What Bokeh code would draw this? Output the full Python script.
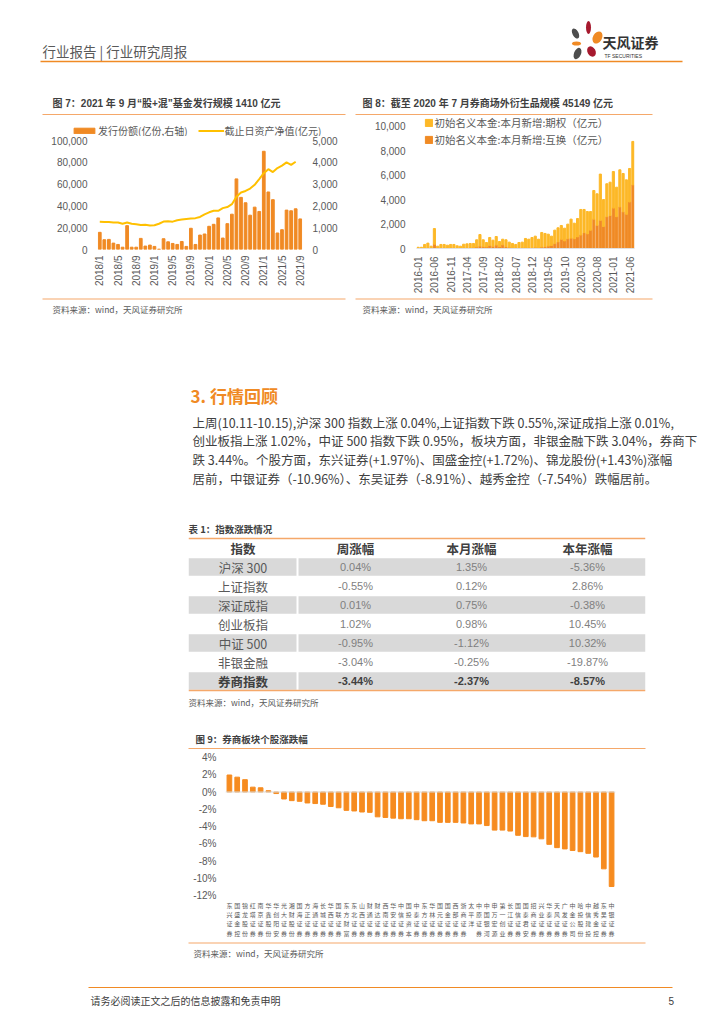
import math
from bokeh.plotting import figure
from bokeh.models import (Range1d, LinearAxis, FixedTicker, NumeralTickFormatter,
                          PrintfTickFormatter, Legend, LegendItem, ColumnDataSource,
                          FactorRange, Span)
from bokeh.layouts import column, row
from bokeh.core.properties import value
from bokeh.embed import file_html
from bokeh.resources import INLINE

CJK = "Noto Sans CJK SC"
MIX = "Liberation Sans, Noto Sans CJK SC"
ORANGE = "#F08A24"
YELLOW = "#FFC000"
LINE_OR = "#F5A86A"
GRAY_T = "#595959"
DARK_T = "#404040"
NAN = float("nan")

# ---------------- data: figure 7 ----------------
months7 = [f"{y}/{m}" for y in range(2018, 2022) for m in range(1, 13)][:45]
ticks7 = ["2018/1", "2018/5", "2018/9", "2019/1", "2019/5", "2019/9", "2020/1",
          "2020/5", "2020/9", "2021/1", "2021/5", "2021/9"]
shares7 = [15600, 8900, 9200, 5800, 4600, 2100, 21700, 2100, 2100, 10100,
           3100, 4000, 2800, 300, 9800, 7000, 5500, 4600, 7300, 2800,
           19300, 4600, 13100, 14100, 21100, 22900, 28700, 10400, 23500, 32100,
           64200, 47400, 42500, 31200, 38500, 34600, 89300, 52300, 45300, 15000,
           18000, 35800, 35200, 37000, 27800]
nav7 = [1260, 1255, 1245, 1225, 1230, 1170, 1225, 1170, 1150, 1110,
        1120, 1090, 1100, 1170, 1270, 1280, 1265, 1330, 1360, 1390,
        1410, 1425, 1480, 1600, 1690, 1760, 1760, 1880, 1930, 2060,
        2400, 2590, 2660, 2770, 2940, 3200, 3470, 3650, 3520, 3700,
        3810, 3960, 3850, 3990]
legend7 = ["发行份额(亿份,右轴)", "截止日资产净值(亿元)"]
title7 = "图 7：2021 年 9 月“股+混”基金发行规模 1410 亿元"

# ---------------- data: figure 8 ----------------
months8 = [f"{y}-{m:02d}" for y in range(2016, 2022) for m in range(1, 13)][:67]
ticks8 = ["2016-01", "2016-06", "2016-11", "2017-04", "2017-09", "2018-02", "2018-07",
          "2018-12", "2019-05", "2019-10", "2020-03", "2020-08", "2021-01", "2021-06"]
total8 = [100, 100, 330, 440, 190, 1630, 190, 330, 330, 270,
          330, 330, 220, 190, 350, 380, 410, 410, 710, 1140,
          710, 490, 900, 680, 980, 570, 760, 710, 520, 410,
          330, 490, 520, 820, 760, 900, 1010, 760, 1310, 1230,
          1170, 1010, 1500, 1690, 1880, 1660, 1990, 2400, 2070, 2450,
          3190, 3190, 3020, 3020, 4740, 4470, 6080, 4000, 5290, 5420,
          6290, 5010, 6430, 6130, 5610, 6540, 8750]
swap8 = [20, 20, 30, 50, 30, 350, 60, 80, 60, 50,
         60, 70, 40, 30, 50, 60, 70, 80, 120, 200,
         150, 120, 250, 180, 280, 150, 300, 150, 100, 60,
         50, 60, 70, 80, 60, 80, 100, 80, 120, 150,
         200, 250, 400, 550, 750, 620, 800, 850, 800, 950,
         1100, 1300, 1200, 1500, 2400, 1900, 2300, 1800, 2600, 2700,
         3300, 2600, 3400, 3000, 2800, 3800, 5200]
legend8 = ["初始名义本金:本月新增:期权（亿元）", "初始名义本金:本月新增:互换（亿元）"]
title8 = "图 8：截至 2020 年 7 月券商场外衍生品规模 45149 亿元"

# ---------------- data: table 1 ----------------
tbl_head = ["指数", "周涨幅", "本月涨幅", "本年涨幅"]
tbl_names = ["沪深 300", "上证指数", "深证成指", "创业板指", "中证 500", "非银金融", "券商指数"]
tbl_week = [0.04, -0.55, 0.01, 1.02, -0.95, -3.04, -3.44]
tbl_month = [1.35, 0.12, 0.75, 0.98, -1.12, -0.25, -2.37]
tbl_year = [-5.36, 2.86, -0.38, 10.45, 10.32, -19.87, -8.57]
title_t = "表 1：指数涨跌情况"

# ---------------- data: figure 9 ----------------
names9 = ["东兴证券", "国盛金控", "锦龙股份", "红塔证券", "南京证券", "华鑫股份", "华创阳安",
          "光大证券", "湘财股份", "国海证券", "方正证券", "海通证券", "长城证券", "华西证券",
          "国联证券", "东方财富", "东北证券", "山西证券", "财通证券", "财达证券", "西南证券",
          "华安证券", "中信证券", "国投资本", "中泰证券", "东方证券", "华林证券", "国元证券",
          "国金证券", "西部证券", "浙商证券", "太平洋", "中原证券", "中国银河", "申万宏源",
          "第一创业", "长江证券", "国信证券", "国泰君安", "招商证券", "兴业证券", "华泰证券",
          "天风证券", "广发证券", "中金公司", "哈投股份", "中信建投", "越秀金控", "东吴证券",
          "中银证券"]
chg9 = [1.97, 1.72, 1.43, 0.56, 0.49, 0.15, -0.18, -0.81, -1.00, -1.08,
        -1.27, -1.34, -1.42, -1.68, -1.83, -2.13, -2.20, -2.32, -2.36, -2.88,
        -2.95, -3.03, -3.10, -3.10, -3.21, -3.33, -3.33, -3.52, -3.52, -3.52,
        -3.59, -3.70, -3.70, -3.89, -4.42, -4.42, -4.53, -5.02, -5.17, -5.20,
        -5.43, -6.07, -6.45, -6.60, -6.78, -6.92, -7.11, -7.54, -8.91, -10.96]
title9 = "图 9：券商板块个股涨跌幅"

source_txt = "资料来源：wind，天风证券研究所"
heading = "3. 行情回顾"
para = ["上周(10.11-10.15),沪深 300 指数上涨 0.04%,上证指数下跌 0.55%,深证成指上涨 0.01%,",
        "创业板指上涨 1.02%，中证 500 指数下跌 0.95%，板块方面，非银金融下跌 3.04%，券商下",
        "跌 3.44%。个股方面，东兴证券(+1.97%)、国盛金控(+1.72%)、锦龙股份(+1.43%)涨幅",
        "居前，中银证券（-10.96%）、东吴证券（-8.91%）、越秀金控（-7.54%）跌幅居前。"]
header_txt = "行业报告 | 行业研究周报"
footer_txt = "请务必阅读正文之后的信息披露和免责申明"
page_no = "5"

W = 720


def band(h, top, w=W, left=0):
    p = figure(width=w, height=h, x_range=Range1d(left, left + w), y_range=Range1d(top + h, top),
               output_backend="svg", toolbar_location=None, min_border=0,
               x_axis_location=None, y_axis_location=None)
    p.grid.visible = False
    p.outline_line_color = None
    p.background_fill_color = "white"
    p.border_fill_color = "white"
    return p


def txt(p, x, y, s, size, color=DARK_T, bold=False, font=MIX, align="left"):
    p.text(x=[x], y=[y], text=[s], text_font=value(font), text_font_size=f"{size}px",
           text_color=color, text_baseline="middle", text_align=align,
           text_font_style="bold" if bold else "normal")


def hline(p, x0, x1, y, color=LINE_OR, w=1.2):
    p.segment(x0=[x0], y0=[y], x1=[x1], y1=[y], line_color=color, line_width=w)


def style_axis(ax, size=10):
    ax.axis_line_color = None
    ax.major_tick_line_color = None
    ax.minor_tick_line_color = None
    ax.major_tick_out = 0
    ax.major_tick_in = 0
    ax.minor_tick_out = 0
    ax.minor_tick_in = 0
    ax.major_label_text_font = MIX
    ax.major_label_text_font_size = f"{size}px"
    ax.major_label_text_color = GRAY_T


# ---------------- band A: header + chart titles (page y 0-116) ----------------
bA = band(116, 0)
txt(bA, 42, 50, header_txt, 13.5, color=GRAY_T, font=CJK)
hline(bA, 40, 682, 61, color=ORANGE, w=1.6)
bA.ellipse(x=[575, 588, 597, 576, 577, 591], y=[33, 27, 37, 43, 53, 51],
           width=[6, 5, 9, 9, 7, 8], height=[11, 13, 13, 4, 12, 11],
           angle=[0.5, 0.0, -0.5, 0.0, -0.4, 0.5],
           fill_color=["#4D4D4D", "#A6192E", ORANGE, ORANGE, "#4D4D4D", "#A6192E"],
           line_color=None)
txt(bA, 602, 41, "天风证券", 14, color="#333333", bold=True, font=CJK)
txt(bA, 604, 55, "TF SECURITIES", 5, color="#333333")
txt(bA, 52, 103, title7, 10, bold=True)
txt(bA, 362, 103, title8, 10, bold=True)
hline(bA, 42, 345, 114)
hline(bA, 355, 652, 114)

# ---------------- legend strip of figure 7 (page x 0-352, y 116-136) ----------------
bL7 = band(20, 116, w=352)
# invisible stand-ins (NaN data) that only carry the legend styles
d_bar = bL7.vbar(x=[NAN], top=[NAN], bottom=[NAN], width=2, color=ORANGE)
d_line = bL7.line(x=[NAN, NAN], y=[NAN, NAN], line_color=YELLOW, line_width=2)
lg7 = Legend(items=[LegendItem(label=legend7[0], renderers=[d_bar]),
                    LegendItem(label=legend7[1], renderers=[d_line])],
             orientation="horizontal", location=(71, -1.5), padding=0, margin=0,
             spacing=10, glyph_width=26, glyph_height=7, label_height=12,
             label_standoff=1, label_text_font=CJK, label_text_font_size="10px",
             label_text_color=GRAY_T, border_line_color=None, background_fill_alpha=0)
bL7.add_layout(lg7, "center")

# ---------------- figure 7 (page x 0-352, y 136-296) ----------------
x7 = list(range(len(months7)))
p7 = figure(width=352, height=160, x_range=Range1d(-0.5, 44.5), y_range=Range1d(0, 100000),
            output_backend="svg", toolbar_location=None,
            min_border_left=97, min_border_right=50, min_border_top=3, min_border_bottom=47)
p7.extra_y_ranges = {"nav": Range1d(0, 5000)}
p7.grid.visible = False
p7.outline_line_color = None
p7.vbar(x=x7, top=shares7, width=0.6, color=ORANGE)
p7.line(x=x7[:len(nav7)], y=nav7, y_range_name="nav", line_color=YELLOW, line_width=2)
ax = p7.yaxis[0]
ax.ticker = FixedTicker(ticks=[0, 20000, 40000, 60000, 80000, 100000])
ax.formatter = NumeralTickFormatter(format="0,0")
style_axis(ax)
ax.major_label_standoff = 10
rax = LinearAxis(y_range_name="nav", ticker=FixedTicker(ticks=[0, 1000, 2000, 3000, 4000, 5000]),
                 formatter=NumeralTickFormatter(format="0,0"))
style_axis(rax)
rax.major_label_standoff = 10
p7.add_layout(rax, "right")
xa = p7.xaxis[0]
xa.ticker = FixedTicker(ticks=[months7.index(t) for t in ticks7])
xa.major_label_overrides = {months7.index(t): t for t in ticks7}
style_axis(xa)
xa.major_label_orientation = math.pi / 2
xa.major_label_standoff = 6

# ---------------- figure 8 (page x 352-720, y 116-296) ----------------
src8 = ColumnDataSource(dict(x=list(range(len(months8))), swap=swap8,
                             option=[t - s for t, s in zip(total8, swap8)]))
p8 = figure(width=368, height=180, x_range=Range1d(-0.5, 66.5),
            y_range=Range1d(0, 10000 * 132 / 123.3),
            output_backend="svg", toolbar_location=None,
            min_border_left=64, min_border_right=86, min_border_top=1, min_border_bottom=47)
p8.grid.visible = False
p8.outline_line_color = None
rs8 = p8.vbar_stack(["swap", "option"], x="x", width=0.65, color=[ORANGE, "#FDB827"], source=src8)
ay = p8.yaxis[0]
ay.ticker = FixedTicker(ticks=[0, 2000, 4000, 6000, 8000, 10000])
ay.formatter = NumeralTickFormatter(format="0,0")
style_axis(ay)
ay.major_label_standoff = 11
xb = p8.xaxis[0]
xb.ticker = FixedTicker(ticks=[months8.index(t) for t in ticks8])
xb.major_label_overrides = {months8.index(t): t for t in ticks8}
style_axis(xb)
xb.axis_line_color = "#E0E0E0"
xb.major_label_orientation = math.pi / 2
xb.major_label_standoff = 8
lg8 = Legend(items=[LegendItem(label=legend8[0], renderers=[rs8[1]]),
                    LegendItem(label=legend8[1], renderers=[rs8[0]])],
             orientation="vertical", location=(7.5, 101), padding=0, margin=0,
             spacing=2, glyph_width=9, glyph_height=9, label_height=13,
             label_standoff=2, label_text_font=CJK, label_text_font_size="10.5px",
             label_text_color=GRAY_T, border_line_color=None, background_fill_alpha=0)
p8.add_layout(lg8, "center")

# ---------------- band C: sources, section text, table title (296-536) ----------------
bC = band(240, 296)
hline(bC, 42, 345, 298.5)
hline(bC, 355, 652, 298.5)
txt(bC, 52, 308, source_txt, 8.5, color=GRAY_T, font=CJK)
txt(bC, 362, 308, source_txt, 8.5, color=GRAY_T, font=CJK)
txt(bC, 190, 395, heading, 17, color=ORANGE, bold=True, font=CJK)
for i, s in enumerate(para):
    txt(bC, 192, 421.7 + i * 18.6, s, 12.5, color=DARK_T, font=CJK)
txt(bC, 188, 528.3, title_t, 9.5, bold=True, font=CJK)

# ---------------- table (536-692) ----------------
col_edges = [0, 109, 225, 341, 457]
col_mid = [(a + b) / 2 for a, b in zip(col_edges[:-1], col_edges[1:])]
nrows = len(tbl_names) + 1
pt = figure(width=W, height=156, x_range=Range1d(0, 457),
            y_range=Range1d(nrows + 2 / 19, -2 / 19),
            output_backend="svg", toolbar_location=None, min_border_left=188,
            min_border_right=W - 188 - 457, min_border_top=0, min_border_bottom=0,
            x_axis_location=None, y_axis_location=None)
pt.grid.visible = False
pt.outline_line_color = None
band_rows = [i + 1 for i in range(len(tbl_names)) if i % 2 == 0]
ql, qr, qt, qb = [], [], [], []
for r in band_rows:
    for a, b in ((col_edges[0], col_edges[1] - 1), (col_edges[1] + 1, col_edges[-1])):
        ql.append(a); qr.append(b); qt.append(r + 0.04); qb.append(r + 0.96)
pt.quad(left=ql, right=qr, top=qt, bottom=qb, fill_color="#D9D9D9", line_color=None)
pt.segment(x0=[0, 0], y0=[0, nrows], x1=[457, 457], y1=[0, nrows], line_color=LINE_OR, line_width=1.5)
pt.text(x=col_mid, y=[0.5] * 4, text=tbl_head, text_font=value(CJK), text_font_size="12.5px",
        text_color=DARK_T, text_font_style="bold", text_align="center", text_baseline="middle")
last = len(tbl_names) - 1
for i, nm in enumerate(tbl_names):
    y = i + 1.5
    bold = "bold" if i == last else "normal"
    col = DARK_T if i == last else GRAY_T
    pt.text(x=[col_mid[0]], y=[y], text=[nm], text_font=value(CJK), text_font_size="12.5px",
            text_color=col, text_font_style=bold, text_align="center", text_baseline="middle")
    vals = [f"{tbl_week[i]:.2f}%", f"{tbl_month[i]:.2f}%", f"{tbl_year[i]:.2f}%"]
    pt.text(x=col_mid[1:], y=[y] * 3, text=vals, text_font=value(MIX), text_font_size="11px",
            text_color=DARK_T if i == last else "#7F7F7F", text_font_style=bold,
            text_align="center", text_baseline="middle")

# ---------------- band D (692-750) ----------------
bD = band(58, 692)
txt(bD, 188, 701, source_txt, 8.5, color=GRAY_T, font=CJK)
txt(bD, 195, 738.3, title9, 9.5, bold=True, font=CJK)
hline(bD, 188, 645, 748)

# ---------------- figure 9 (750-940) ----------------
lab9 = ["\n".join(n) for n in names9]
p9 = figure(width=W, height=190, x_range=FactorRange(*lab9), y_range=Range1d(-12, 4),
            output_backend="svg", toolbar_location=None,
            min_border_left=225, min_border_right=W - 225 - 390, min_border_top=7,
            min_border_bottom=40)
p9.grid.visible = False
p9.outline_line_color = None
p9.vbar(x=lab9, top=chg9, width=0.6, color="#F68B1F")
p9.add_layout(Span(location=0, dimension="width", line_color="#D9D9D9", line_width=1))
ya9 = p9.yaxis[0]
ya9.ticker = FixedTicker(ticks=[-12, -10, -8, -6, -4, -2, 0, 2, 4])
ya9.formatter = PrintfTickFormatter(format="%d%%")
style_axis(ya9)
ya9.major_label_standoff = 9
xa9 = p9.xaxis[0]
style_axis(xa9, 6)
xa9.major_label_text_font = CJK
xa9.major_label_text_line_height = 1.05
xa9.major_label_standoff = 5

# ---------------- band F (940-1016) ----------------
bF = band(76, 940)
hline(bF, 188, 645, 942.5)
txt(bF, 193, 952, source_txt, 8.5, color=GRAY_T, font=CJK)
hline(bF, 88, 672, 987, color=ORANGE, w=1)
txt(bF, 90, 1000, footer_txt, 10, color=DARK_T, font=CJK)
txt(bF, 668, 1000, page_no, 10, color=DARK_T)

top_row = row(column(row(bL7), row(p7), spacing=0), row(p8), spacing=0)
layout = column(row(bA), top_row, row(bC), row(pt), row(bD), row(p9), row(bF), spacing=0)
open("out.html", "w").write(file_html(layout, INLINE))
